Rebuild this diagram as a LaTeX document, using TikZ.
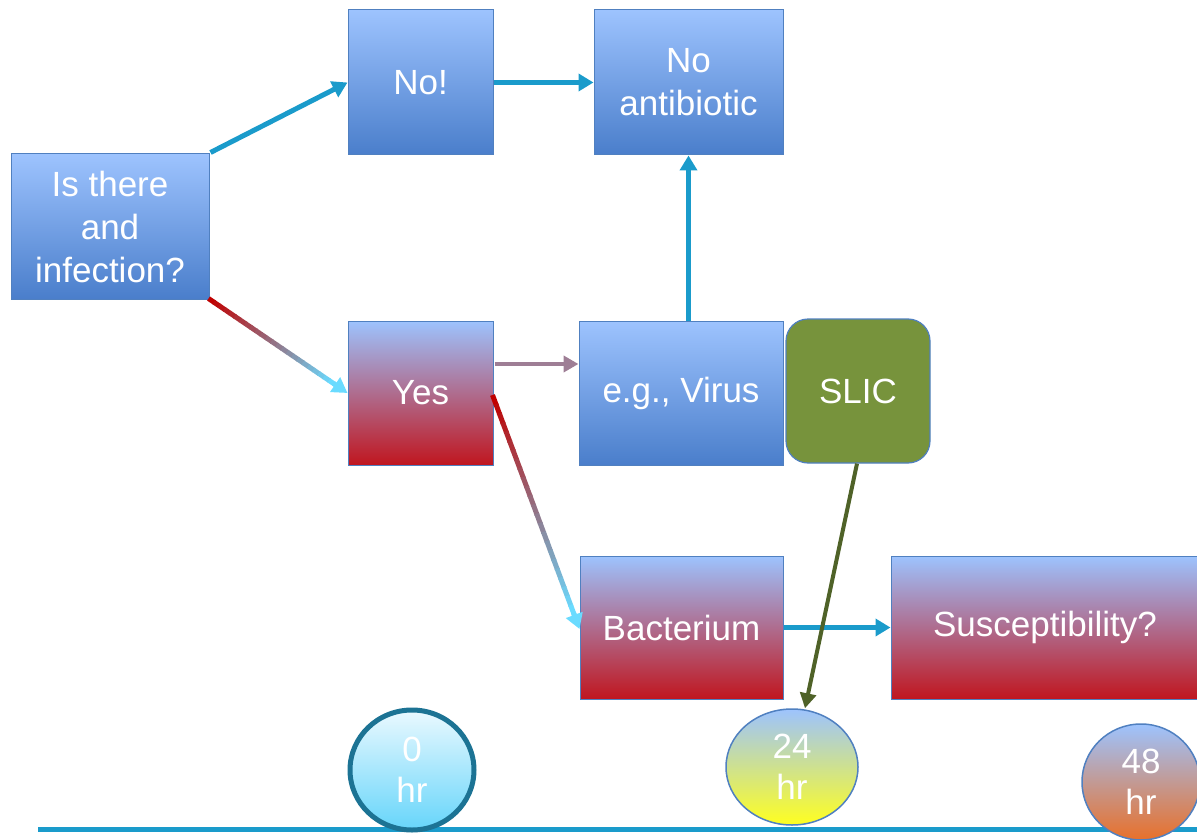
\documentclass[tikz,border=0pt]{standalone}
\usepackage{fontspec}
\setmainfont{Liberation Sans}
\usetikzlibrary{shapes.geometric,arrows.meta,calc}
\definecolor{boxtop}{HTML}{9DC3FE}
\definecolor{boxbot}{HTML}{4A7ECB}
\definecolor{redbot}{HTML}{C0161F}
\definecolor{boxline}{HTML}{5080C0}
\definecolor{arrblue}{HTML}{1A9BCB}
\definecolor{slicgreen}{HTML}{77933C}
\definecolor{slicarrow}{HTML}{4F6228}
\definecolor{zeroline}{HTML}{1C7394}
\definecolor{zerotop}{HTML}{EAF9FF}
\definecolor{zerobot}{HTML}{66D5FA}
\definecolor{yellowbot}{HTML}{FFFF20}
\definecolor{orangebot}{HTML}{E8702A}
\definecolor{gradred}{HTML}{C00000}
\definecolor{gradcyan}{HTML}{6ADBFF}
\definecolor{purplegray}{HTML}{9E7E95}
\newcommand{\gradarrow}[2]{%
  \foreach \i in {0,...,23}{%
    \pgfmathsetmacro{\p}{100-100*\i/23}%
    \pgfmathsetmacro{\ta}{\i/24}%
    \pgfmathsetmacro{\tb}{(\i+1.15)/24}%
    \draw[line width=5, color=gradred!\p!gradcyan]
      ($(#1)!\ta!($(#2)!16pt!(#1)$)$) -- ($(#1)!\tb!($(#2)!16pt!(#1)$)$);
  }%
  \draw[line width=5, color=gradcyan, -{Triangle[length=15pt,width=17pt]}]
    ($(#2)!17pt!(#1)$) -- (#2);
}
\tikzset{
  txt/.style={text=white, font=\fontsize{35}{43}\selectfont, align=center},
  bluebox/.style={txt, draw=boxline, line width=1, top color=boxtop, bottom color=boxbot, inner sep=0},
  redbox/.style={txt, draw=boxline, line width=1, top color=boxtop, bottom color=redbot, inner sep=0},
  arr/.style={line width=5, color=arrblue, -{Triangle[length=15pt,width=17pt]}},
  timecirc/.style={txt, font=\fontsize{35}{41}\selectfont, ellipse, inner sep=0, line width=1.5, draw=boxline}
}
\begin{document}
\begin{tikzpicture}[x=1pt,y=-1pt]
\useasboundingbox (0,0) rectangle (1197,840);
% baseline
\draw[line width=5, color=arrblue] (38,829) -- (1197,829);
% boxes
\node[bluebox, minimum width=198, minimum height=145] (q) at (110,226.5) {Is there\\and\\infection?};
\node[bluebox, minimum width=145, minimum height=145] (no) at (420.5,82.5) {No!};
\node[bluebox, minimum width=189, minimum height=145] (noab) at (688.5,82.5) {No\\antibiotic};
\node[redbox, minimum width=145, minimum height=144] (yes) at (420.5,393) {Yes};
\node[bluebox, minimum width=204, minimum height=144] (virus) at (681,393) {e.g., Virus};
\node[txt, draw=boxline, line width=1.2, fill=slicgreen, rounded corners=22, minimum width=144, minimum height=144] (slic) at (858,391) {SLIC};
\node[redbox, minimum width=203, minimum height=143] (bac) at (681.5,627.5) {Bacterium};
\node[redbox, minimum width=308, minimum height=143] (sus) at (1045,627.5) {Susceptibility?};
% time circles
\node[timecirc, draw=zeroline, line width=5, top color=zerotop, bottom color=zerobot, minimum width=124, minimum height=120] (t0) at (412,770) {0\\hr};
\node[timecirc, top color=boxtop, bottom color=yellowbot, minimum width=132, minimum height=116] (t24) at (792,767) {24\\hr};
\node[timecirc, top color=boxtop, bottom color=orangebot, minimum width=118, minimum height=116] (t48) at (1141,782) {48\\hr};
% connectors
\coordinate (qne) at ($(q.north east)+(1,-1)$);
\draw[arr] (qne) -- (no.west);
\draw[arr] (no.east) -- (noab.west);
\draw[arr] (virus.north -| noab.south) -- (noab.south);
\draw[arr] (bac.east) -- (sus.west);
\coordinate (qse) at ($(q.south east)+(-1,-1)$);
\gradarrow{qse}{yes.west}
\coordinate (yesup) at ($(yes.east)+(1,-29)$);
\coordinate (virusup) at ($(virus.west)+(0,-29)$);
\draw[line width=4, color=purplegray, -{Triangle[length=15pt,width=16pt]}] (yesup) -- (virusup);
\coordinate (yesmid) at ($(yes.east)+(-1,2)$);
\coordinate (bacw) at ($(bac.west)+(0,1.5)$);
\gradarrow{yesmid}{bacw}
\coordinate (slicbot) at ($(slic.south)+(-1,0)$);
\coordinate (t24top) at ($(t24.north)+(13,0)$);
\draw[line width=4, color=slicarrow, -{Triangle[length=15pt,width=16pt]}] (slicbot) -- (t24top);
\end{tikzpicture}
\end{document}
